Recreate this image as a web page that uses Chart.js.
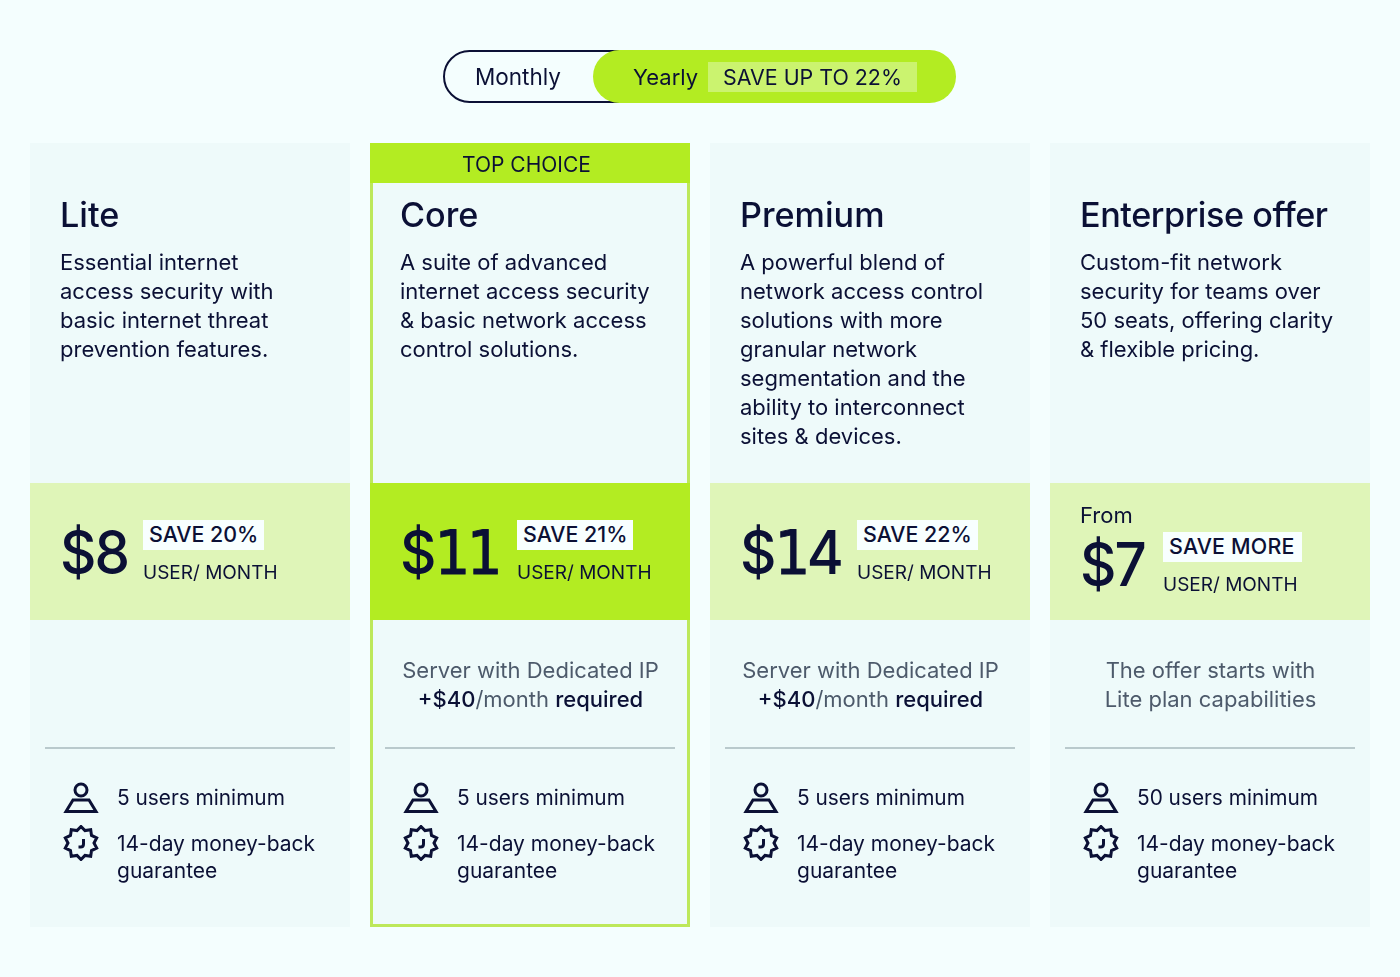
<!DOCTYPE html>
<html><head><meta charset="utf-8">
<script src="https://cdn.jsdelivr.net/npm/chart.js@4"></script>
<style>
html,body{margin:0;padding:0;background:#f4fefe;width:1400px;height:977px;overflow:hidden;font-family:Inter,sans-serif;color:#0b1035}
#wrap{position:relative;width:1400px;height:977px}
canvas{position:absolute;left:0;top:0}
.t{position:absolute;white-space:pre;line-height:1}
.pill{position:absolute;box-sizing:border-box}
.title{font-size:34.2px;font-weight:500}
.desc{font-size:22px;color:#0b1035}
.price{font-size:60px;font-weight:500;letter-spacing:-2px;transform:scaleX(.94);transform-origin:left top}
.price span{font-family:"DejaVu Sans";font-weight:400;-webkit-text-stroke:.8px #0b1035;letter-spacing:-4px}
.save{font-size:21.4px;font-weight:500;background:#f8ffff;padding:3px 6px 5px;line-height:22px}
.unit{font-size:19px}
.note{font-size:22px;color:#4d5a6b;text-align:center}
.note b{font-weight:500;color:#0b1035}
.feat{font-size:21px}
.div{position:absolute;height:2px;background:#b9c9cc}
svg{position:absolute;fill:none;stroke:#0b1035;stroke-width:3}
</style></head><body><div id="wrap"><canvas id="c" width="1400" height="977"></canvas></div>
<script>
const planNames=["Lite","Core","Premium","Enterprise offer"];
const prices=[8,11,14,7];
const saves=["SAVE 20%","SAVE 21%","SAVE 22%","SAVE MORE"];
const unitLabel="USER/ MONTH";
const descriptions=[
["Essential internet","access security with","basic internet threat","prevention features."],
["A suite of advanced","internet access security","& basic network access","control solutions."],
["A powerful blend of","network access control","solutions with more","granular network","segmentation and the","ability to interconnect","sites & devices."],
["Custom-fit network","security for teams over","50 seats, offering clarity","& flexible pricing."]];
const notes=[[],
["Server with Dedicated IP","<b>+$40</b>/month <b>required</b>"],
["Server with Dedicated IP","<b>+$40</b>/month <b>required</b>"],
["The offer starts with","Lite plan capabilities"]];
const minUsers=["5 users minimum","5 users minimum","5 users minimum","50 users minimum"];
const guarantee=["14-day money-back","guarantee"];
const toggleLabels=["Monthly","Yearly","SAVE UP TO 22%"];
const topChoice="TOP CHOICE";
// section heights of each card
const offsetH=[143,143,143,143];
const badgeH=[0,40,0,0];
const bodyH=[340,300,340,340];
const bandH=[137,137,137,137];
const footH=[307,307,307,307];

const LIME='#b3ec22',PALE='#dff5b8',CARD='#eefafa',HI=1;
const cfg={type:'bar',data:{labels:planNames,datasets:[
{data:offsetH,backgroundColor:'rgba(0,0,0,0)'},
{data:badgeH,backgroundColor:LIME},
{data:bodyH,backgroundColor:CARD,borderColor:'#bde85a',borderSkipped:false,
 borderWidth:c=>c.dataIndex===HI?{left:3,right:3,top:0,bottom:0}:0},
{data:bandH,backgroundColor:c=>c.dataIndex===HI?LIME:PALE},
{data:footH,backgroundColor:CARD,borderColor:'#bde85a',borderSkipped:false,
 borderWidth:c=>c.dataIndex===HI?{left:3,right:3,top:0,bottom:3}:0}
]},options:{responsive:false,animation:false,events:[],
 layout:{padding:{left:20,right:20,top:0,bottom:0}},
 datasets:{bar:{barPercentage:320/340,categoryPercentage:1}},
 plugins:{legend:{display:false},tooltip:{enabled:false}},
 scales:{x:{display:false,stacked:true},y:{display:false,stacked:true,reverse:true,min:0,max:977}}}};
const chart=new Chart(document.getElementById('c'),cfg);
const wrap=document.getElementById('wrap');
function el(cls,x,y,html,extra){const d=document.createElement('div');d.className=cls;d.style.left=x+'px';d.style.top=y+'px';d.innerHTML=html;if(extra)Object.assign(d.style,extra);wrap.appendChild(d);return d;}
// toggle
el('pill',443,50,'',{width:'300px',height:'53px',border:'2px solid #0b1035',borderRadius:'27px',background:'#f4fefe'});
el('pill',593,50,'',{width:'363px',height:'53px',borderRadius:'27px',background:LIME});
el('t',475,66,toggleLabels[0],{fontSize:'22.5px'});
el('t',633,66,toggleLabels[1],{fontSize:'22px'});
el('t',708,62,toggleLabels[2],{fontSize:'21.4px',background:'#cbf36f',padding:'4px 15px',lineHeight:'22px'});
el('t',462,154,topChoice,{fontSize:'21px'});
const man='<circle cx="18" cy="8" r="6"/><path d="M10 18h16l7 11.5H3z"/>';
let star='M';
for(let k=0;k<20;k++){const r=k%2?13:16.5,a=Math.PI*k/10-Math.PI/2;star+=(18+r*Math.cos(a)).toFixed(1)+' '+(18+r*Math.sin(a)).toFixed(1)+(k<19?'L':'Z');}
const badge='<path d="'+star+'"/><path d="M20.5 14v5q0 3-3 3h-2" stroke-width="3"/>';
planNames.forEach((n,i)=>{
 const L=chart.scales.x.getPixelForValue(i)-160;
 el('t title',L+30,198,n,i===3?{letterSpacing:'-.45px'}:null);
 descriptions[i].forEach((s,k)=>el('t desc',L+30,251+k*29,s));
 if(i===3){el('t',L+30,504,'From',{fontSize:'22px'});}
 const dy=i===3?12:0;
 el('t price',L+30,522+dy,('$'+prices[i]).replace(/1/g,'<span>1</span>'));
 const sx=[143,517,857,1163][i];
 el('t save',sx,520+dy,saves[i],i===3?{paddingRight:'7px',letterSpacing:'.2px'}:null);
 el('t unit',sx,563+dy,unitLabel);
 notes[i].forEach((s,k)=>el('t note',L+160.5,659+k*29,s,{transform:'translateX(-50%)'}));
 el('div',L+15,747,'',{width:'290px'});
 const a=document.createElementNS('http://www.w3.org/2000/svg','svg');
 a.setAttribute('width',36);a.setAttribute('height',36);a.setAttribute('viewBox','0 0 36 36');a.style.left=(L+32.5)+'px';a.style.top='782px';a.innerHTML=man;wrap.appendChild(a);
 const b=document.createElementNS('http://www.w3.org/2000/svg','svg');
 b.setAttribute('width',36);b.setAttribute('height',36);b.setAttribute('viewBox','0 0 36 36');b.style.left=(L+32.5)+'px';b.style.top='825px';b.innerHTML=badge;wrap.appendChild(b);
 el('t feat',L+87,788,minUsers[i],{fontSize:'20.8px'});
 guarantee.forEach((s,k)=>el('t feat',L+87,833+k*27,s));
});
</script></body></html>
